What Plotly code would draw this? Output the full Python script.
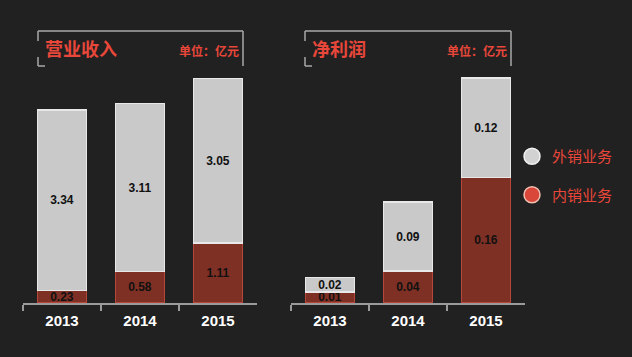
import plotly.graph_objects as go

W, H = 632, 357

years = ["2013", "2014", "2015"]
rev_domestic = [0.23, 0.58, 1.11]
rev_export = [3.34, 3.11, 3.05]
profit_domestic = [0.014, 0.04, 0.157]
profit_export = [0.018, 0.086, 0.124]

series_names = ["外销业务", "内销业务"]
titles = ["营业收入", "净利润"]
unit_text = "单位：亿元"

RED_TXT = "#e8473a"
GREY_FILL = "#c9c9c9"
GREY_LINE = "#e8e8e8"
RED_FILL = "#7f3024"
RED_LINE = "#b4473a"

def px(x):
    return x / W

def py(y):
    return 1 - y / H

fig = go.Figure()

def add_bars(xa, ya, dom, exp):
    fig.add_trace(go.Bar(x=years, y=dom, xaxis=xa, yaxis=ya, width=0.63,
                         marker=dict(color=RED_FILL, line=dict(color=RED_LINE, width=1.5)),
                         text=[f"{v:.2f}" for v in dom], textposition="inside",
                         insidetextanchor="middle",
                         textfont=dict(family="Arial", size=12, color="#111111", weight="bold"),
                         showlegend=False, hoverinfo="skip"))
    fig.add_trace(go.Bar(x=years, y=exp, xaxis=xa, yaxis=ya, width=0.63,
                         marker=dict(color=GREY_FILL, line=dict(color=GREY_LINE, width=1.5)),
                         text=[f"{v:.2f}" for v in exp], textposition="inside",
                         insidetextanchor="middle",
                         textfont=dict(family="Arial", size=12, color="#111111", weight="bold"),
                         showlegend=False, hoverinfo="skip"))

add_bars("x", "y", rev_domestic, rev_export)
add_bars("x2", "y2", profit_domestic, profit_export)

# legend dummies
fig.add_trace(go.Scatter(x=[None], y=[None], mode="markers", name=series_names[0],
                         legendgroup="a",
                         marker=dict(size=17, color="#d2d2d2", line=dict(color="#f0f0f0", width=1.5))))
fig.add_trace(go.Scatter(x=[None], y=[None], mode="markers", name=series_names[1],
                         legendgroup="b",
                         marker=dict(size=17, color="#d9473a", line=dict(color="#f0c0b0", width=1.5))))

ydom = [py(303), 1]
xaxis_common = dict(type="category", showgrid=False, zeroline=False,
                    showline=True, linecolor="#9a9a9a", linewidth=2,
                    ticks="outside", tickson="boundaries", ticklen=6, tickcolor="#9a9a9a",
                    tickwidth=2, range=[-0.5, 2.5], fixedrange=True, ticklabelstandoff=3,
                    tickfont=dict(family="Arial", size=15, color="#ffffff", weight="bold"))
fig.update_layout(
    width=W, height=H, margin=dict(l=0, r=0, t=0, b=0),
    paper_bgcolor="#212121", plot_bgcolor="rgba(0,0,0,0)",
    barmode="stack", uniformtext=dict(minsize=12, mode="show"),
    xaxis=dict(domain=[px(23), px(257)], anchor="y", **xaxis_common),
    xaxis2=dict(domain=[px(291), px(525)], anchor="y2", **xaxis_common),
    yaxis=dict(domain=ydom, range=[0, 303 / 54.0], visible=False, fixedrange=True),
    yaxis2=dict(domain=ydom, range=[0, 303 / 800.0], visible=False, fixedrange=True),
    legend=dict(x=px(512), y=py(140), xanchor="left", yanchor="top",
                bgcolor="rgba(0,0,0,0)", tracegroupgap=16, traceorder="grouped",
                font=dict(family="Noto Sans CJK SC", size=15, color=RED_TXT)),
)

# title boxes
shapes = []
anns = []
for (x0, x1), title in zip([(38, 243), (305, 511)], titles):
    y0, y1 = 31, 66
    line = dict(color="#a8a8a8", width=1.5)
    for (a, b, c, d) in [(x0, y0, x1, y0), (x1, y0, x1, y1), (x0, y0, x0, 41),
                         (x0, 57, x0, y1), (x0, y1, x0 + 7, y1)]:
        shapes.append(dict(type="line", xref="paper", yref="paper",
                           x0=px(a), y0=py(b), x1=px(c), y1=py(d), line=line))
    anns.append(dict(text=title, x=px(x0 + 5), y=py(48.5), xref="paper", yref="paper",
                     xanchor="left", yanchor="middle", showarrow=False,
                     font=dict(family="Noto Sans CJK SC", size=18, color=RED_TXT, weight="bold")))
    anns.append(dict(text=unit_text, x=px(x1 - 2), y=py(51), xref="paper", yref="paper",
                     xanchor="right", yanchor="middle", showarrow=False,
                     font=dict(family="Noto Sans CJK SC", size=12, color=RED_TXT, weight="bold")))

fig.update_layout(shapes=shapes, annotations=anns)
fig.write_html("out.html", config={"displayModeBar": False},
               post_script="document.body.style.margin='0';")
